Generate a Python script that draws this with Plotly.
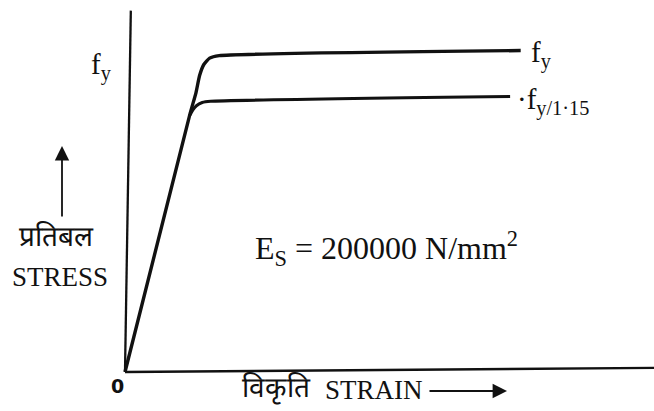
import plotly.graph_objects as go

# Normalised strain (x) and stress (y, fraction of fy)
upper_strain = [0.0, 0.123, 0.134, 0.141, 0.149, 0.160, 0.178, 0.748]
upper_stress = [0.0, 0.815, 0.880, 0.935, 0.970, 0.990, 0.998, 1.014]

lower_strain = [0.122, 0.128, 0.135, 0.146, 0.162, 0.728]
lower_stress = [0.808, 0.826, 0.840, 0.850, 0.854, 0.869]

axis_x_strain = [0.0, 1.0]
axis_x_stress = [0.0, 0.013]
axis_y_strain = [0.011, 0.0]
axis_y_stress = [1.14, 0.0]

SERIF = "Liberation Serif"

fig = go.Figure()
fig.add_trace(go.Scatter(x=axis_y_strain, y=axis_y_stress, mode="lines",
                         line=dict(color="#111", width=2.3), hoverinfo="skip"))
fig.add_trace(go.Scatter(x=axis_x_strain, y=axis_x_stress, mode="lines",
                         line=dict(color="#111", width=2.3), hoverinfo="skip"))
fig.add_trace(go.Scatter(x=upper_strain, y=upper_stress, mode="lines",
                         line=dict(color="#111", width=3.4, shape="spline", smoothing=0.5),
                         hoverinfo="skip"))
fig.add_trace(go.Scatter(x=lower_strain, y=lower_stress, mode="lines",
                         line=dict(color="#111", width=3.1, shape="spline", smoothing=0.5),
                         hoverinfo="skip"))

def px2x(px):
    return (px - 125) / 529.0

def py2y(py):
    return (372 - py) / 317.0

ann = []
def txt(s, px, py, size, xanchor="center", family=SERIF, bold=False):
    if bold:
        s = "<b>" + s + "</b>"
    ann.append(dict(x=px2x(px), y=py2y(py), text=s, showarrow=False,
                    xanchor=xanchor, yanchor="middle",
                    font=dict(family=family, size=size, color="#111")))

txt("f<sub>y</sub>", 101, 66, 29)
txt("f<sub>y</sub>", 529, 54, 29, xanchor="left")
txt("·f<sub>y/1·15</sub>", 515, 101, 29, xanchor="left")
txt("प्रतिबल", 56, 236, 28)
txt("STRESS", 60, 277, 27)
txt("0", 117, 386, 19, family="DejaVu Sans", bold=True)
txt("विकृति", 240, 388, 28, xanchor="left")
txt("STRAIN", 323, 390, 27, xanchor="left")
txt("E<sub>S</sub> = 200000 N/mm<sup>2</sup>", 253, 248, 32, xanchor="left")

# stress arrow (pointing up)
ann.append(dict(x=px2x(62), y=py2y(146), ax=px2x(62), ay=py2y(218),
                xref="x", yref="y", axref="x", ayref="y", text="",
                showarrow=True, arrowhead=2, arrowsize=1.6, arrowwidth=1.8,
                arrowcolor="#111"))
# strain arrow (pointing right)
ann.append(dict(x=px2x(507), y=py2y(391), ax=px2x(428), ay=py2y(391),
                xref="x", yref="y", axref="x", ayref="y", text="",
                showarrow=True, arrowhead=2, arrowsize=1.6, arrowwidth=1.8,
                arrowcolor="#111"))

fig.update_layout(
    width=654, height=411,
    margin=dict(l=0, r=0, t=0, b=0),
    paper_bgcolor="white", plot_bgcolor="white",
    showlegend=False,
    annotations=ann,
    xaxis=dict(range=[px2x(0), px2x(654)], visible=False, fixedrange=True),
    yaxis=dict(range=[py2y(411), py2y(0)], visible=False, fixedrange=True),
)

fig.write_html("out.html", config={"displayModeBar": False},
               post_script="document.body.style.margin='0';")
